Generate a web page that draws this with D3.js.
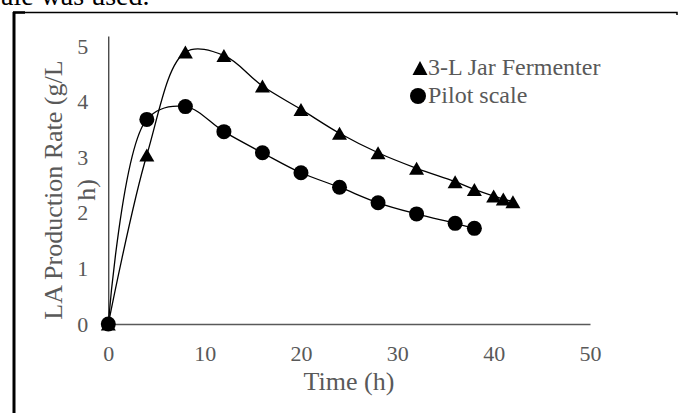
<!DOCTYPE html>
<html>
<head>
<meta charset="utf-8">
<script src="https://cdn.jsdelivr.net/npm/d3@7"></script>
<style>
  html, body { margin: 0; padding: 0; background: #fff; }
  svg { display: block; font-family: "Liberation Serif", "Times New Roman", serif; }
</style>
</head>
<body>
<script>
// data
const timeJar = [0, 4, 8, 12, 16, 20, 24, 28, 32, 36, 38, 40, 41, 42];
const rateJar = [0, 3.04, 4.89, 4.83, 4.28, 3.86, 3.43, 3.08, 2.80, 2.56, 2.42, 2.30, 2.25, 2.20];
const timePilot = [0, 4, 8, 12, 16, 20, 24, 28, 32, 36, 38];
const ratePilot = [0, 3.68, 3.91, 3.46, 3.08, 2.72, 2.46, 2.18, 1.98, 1.81, 1.72];
const xTicks = [0, 10, 20, 30, 40, 50];
const yTicks = [0, 1, 2, 3, 4, 5];
const seriesNames = ["3-L Jar Fermenter", "Pilot scale"];

const w = 678, h = 413;
const textGray = "#595959";

const svg = d3.select("body").append("svg")
  .attr("width", w)
  .attr("height", h);

// bit of the paper text above the figure
svg.append("text")
  .attr("x", 1)
  .attr("y", 5)
  .attr("font-size", 28)
  .attr("fill", "#000")
  .text("ale was used.");

// figure frame (left + top only, rest is cropped)
svg.append("path")
  .attr("d", "M14,413 V12.5 H677 V15")
  .attr("fill", "none")
  .attr("stroke", "#000")
  .attr("stroke-width", 1.5);
svg.append("line")
  .attr("x1", 14).attr("x2", 14).attr("y1", 12).attr("y2", 413)
  .attr("stroke", "#000").attr("stroke-width", 3);
svg.append("line")
  .attr("x1", 13).attr("x2", 25).attr("y1", 12.5).attr("y2", 12.5)
  .attr("stroke", "#000").attr("stroke-width", 2.5);

const xScale = d3.scaleLinear().domain([0, 50]).range([108.3, 590]);
const yScale = d3.scaleLinear().domain([0, 5.18]).range([324, 36]);

// y axis
const yAxis = d3.axisLeft(yScale)
  .tickValues(yTicks)
  .tickSize(0)
  .tickPadding(20)
  .tickFormat(d3.format("d"));
const gy = svg.append("g")
  .attr("transform", "translate(" + xScale(0) + ",0)")
  .call(yAxis);
gy.select(".domain").attr("stroke", "#000").attr("stroke-width", 1);
gy.selectAll("text")
  .attr("font-size", 22)
  .attr("fill", textGray)
  .attr("font-family", "Liberation Serif");

// x axis
const xAxis = d3.axisBottom(xScale)
  .tickValues(xTicks)
  .tickSize(0)
  .tickPadding(21)
  .tickFormat(d3.format("d"));
const gx = svg.append("g")
  .attr("transform", "translate(0," + yScale(0) + ")")
  .call(xAxis);
gx.select(".domain").attr("stroke", textGray).attr("stroke-width", 1.5);
gx.selectAll("text")
  .attr("font-size", 22)
  .attr("fill", textGray)
  .attr("font-family", "Liberation Serif");

// axis titles
svg.append("text")
  .attr("x", 349)
  .attr("y", 390)
  .attr("text-anchor", "middle")
  .attr("font-size", 26)
  .attr("fill", textGray)
  .text("Time (h)");

const yTitle = svg.append("text")
  .attr("transform", "translate(62,190) rotate(-90)")
  .attr("text-anchor", "middle")
  .attr("font-size", 26)
  .attr("fill", textGray);
yTitle.append("tspan").attr("x", 0).attr("y", 0).text("LA Production Rate (g/L");
yTitle.append("tspan").attr("x", 0).attr("y", 33).text("h)");

// smoothed lines
const line = d3.line()
  .x(d => xScale(d[0]))
  .y(d => yScale(d[1]))
  .curve(d3.curveCatmullRom.alpha(0.5));

const jar = timeJar.map((t, i) => [t, rateJar[i]]);
const pilot = timePilot.map((t, i) => [t, ratePilot[i]]);

svg.append("path")
  .datum(jar)
  .attr("d", line)
  .attr("fill", "none")
  .attr("stroke", "#000")
  .attr("stroke-width", 1.3);

svg.append("path")
  .datum(pilot)
  .attr("d", line)
  .attr("fill", "none")
  .attr("stroke", "#000")
  .attr("stroke-width", 1.3);

// markers
const triSide = 15, triH = 13;
const triPath = `M0,${-triH / 2}L${triSide / 2},${triH / 2}L${-triSide / 2},${triH / 2}Z`;

svg.append("g").selectAll("path")
  .data(jar)
  .enter()
  .append("path")
  .attr("d", triPath)
  .attr("transform", d => "translate(" + xScale(d[0]) + "," + yScale(d[1]) + ")")
  .attr("fill", "#000");

svg.append("g").selectAll("circle")
  .data(pilot)
  .enter()
  .append("circle")
  .attr("cx", d => xScale(d[0]))
  .attr("cy", d => yScale(d[1]))
  .attr("r", 7.5)
  .attr("fill", "#000");

// legend
const legend = svg.append("g");
legend.append("path")
  .attr("d", `M0,${-7}L7.5,7L-7.5,7Z`)
  .attr("transform", "translate(420,68)")
  .attr("fill", "#000");
legend.append("circle")
  .attr("cx", 418)
  .attr("cy", 96)
  .attr("r", 8)
  .attr("fill", "#000");
legend.selectAll("text")
  .data(seriesNames)
  .enter()
  .append("text")
  .attr("x", 428)
  .attr("y", (d, i) => 75 + i * 28)
  .attr("font-size", 24)
  .attr("fill", textGray)
  .text(d => d);
</script>
</body>
</html>
